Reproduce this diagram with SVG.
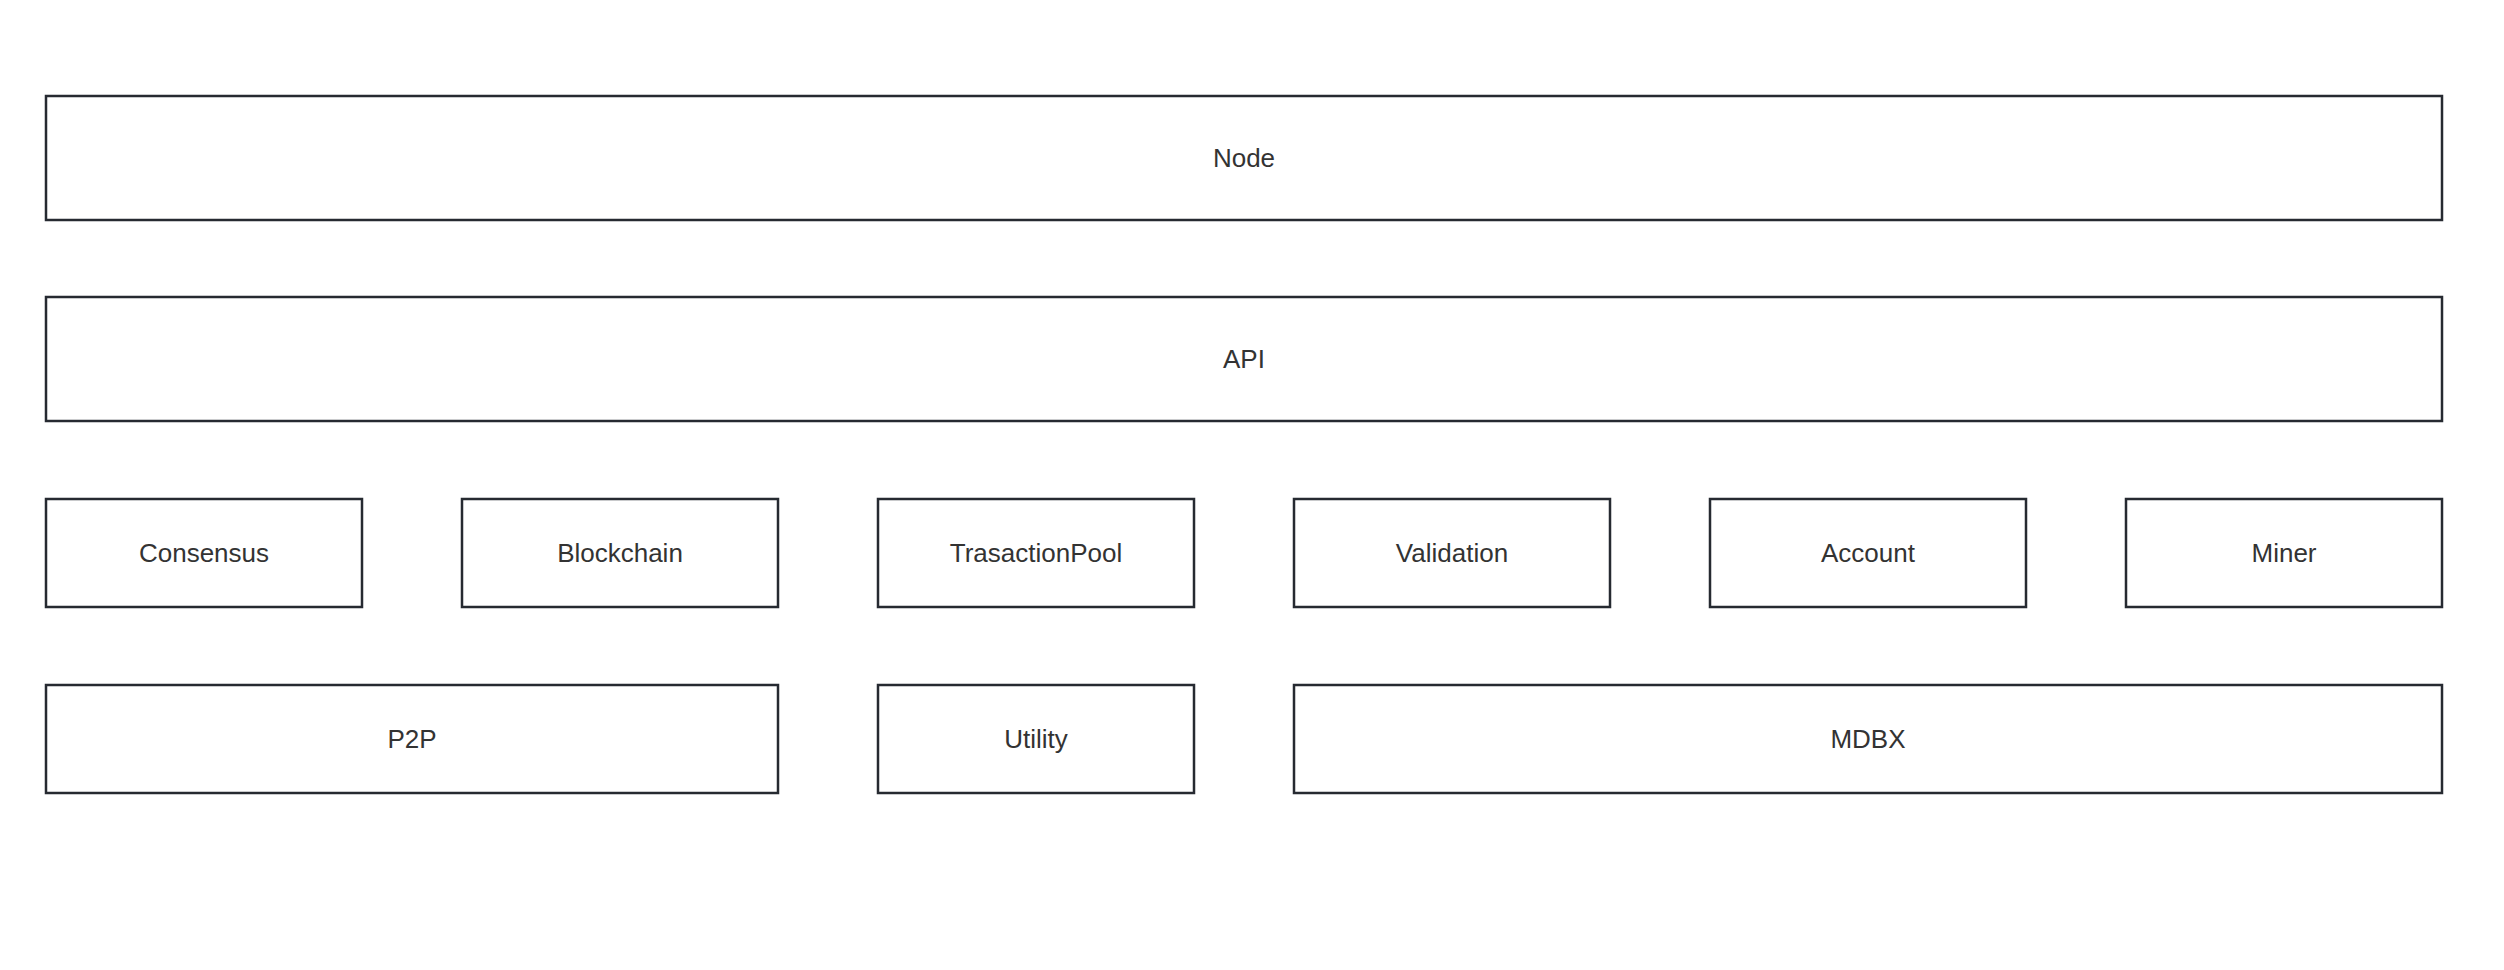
<svg xmlns="http://www.w3.org/2000/svg" width="2504" height="970" viewBox="0 0 2504 970">
<style>
.box{fill:#ffffff;stroke:#262a31;stroke-width:2.5}
.lbl{font-family:"Liberation Sans",Arial,sans-serif;font-size:26px;fill:#333333;text-anchor:middle;dominant-baseline:central}
</style>
<rect width="2504" height="970" fill="#ffffff"/>
<g id="connectors"></g>
<g id="node-Node"><rect class="box" x="46" y="96" width="2396" height="124"/><text class="lbl" x="1244" y="158">Node</text></g>
<g id="node-API"><rect class="box" x="46" y="297" width="2396" height="124"/><text class="lbl" x="1244" y="359">API</text></g>
<g id="node-Consensus"><rect class="box" x="46" y="499" width="316" height="108"/><text class="lbl" x="204" y="553">Consensus</text></g>
<g id="node-Blockchain"><rect class="box" x="462" y="499" width="316" height="108"/><text class="lbl" x="620" y="553">Blockchain</text></g>
<g id="node-TrasactionPool"><rect class="box" x="878" y="499" width="316" height="108"/><text class="lbl" x="1036" y="553">TrasactionPool</text></g>
<g id="node-Validation"><rect class="box" x="1294" y="499" width="316" height="108"/><text class="lbl" x="1452" y="553">Validation</text></g>
<g id="node-Account"><rect class="box" x="1710" y="499" width="316" height="108"/><text class="lbl" x="1868" y="553">Account</text></g>
<g id="node-Miner"><rect class="box" x="2126" y="499" width="316" height="108"/><text class="lbl" x="2284" y="553">Miner</text></g>
<g id="node-P2P"><rect class="box" x="46" y="685" width="732" height="108"/><text class="lbl" x="412" y="739">P2P</text></g>
<g id="node-Utility"><rect class="box" x="878" y="685" width="316" height="108"/><text class="lbl" x="1036" y="739">Utility</text></g>
<g id="node-MDBX"><rect class="box" x="1294" y="685" width="1148" height="108"/><text class="lbl" x="1868" y="739">MDBX</text></g>
</svg>
